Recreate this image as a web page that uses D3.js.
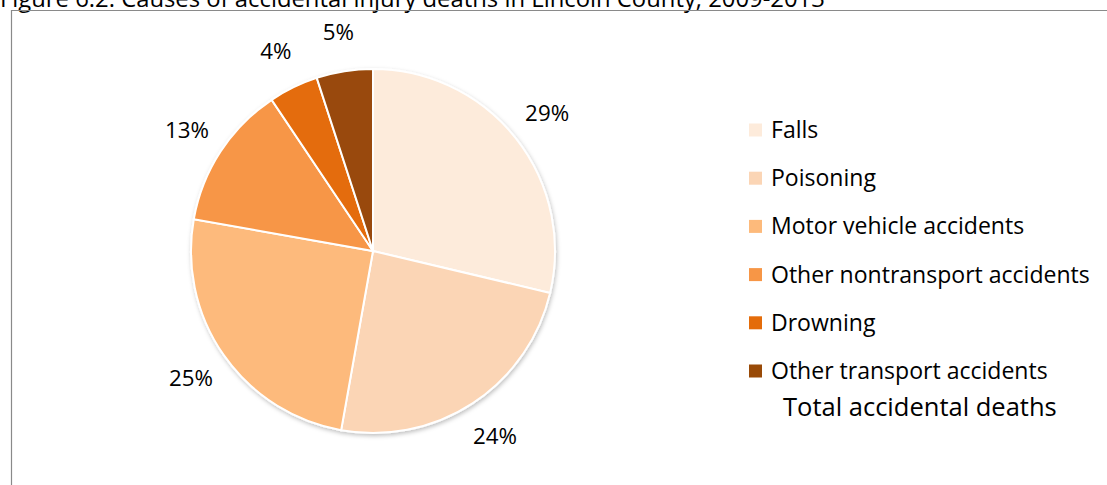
<!DOCTYPE html>
<html>
<head>
<meta charset="utf-8">
<script src="https://cdn.jsdelivr.net/npm/d3@7"></script>
<style>
  body { margin: 0; background: #fff; }
  text { font-family: "Open Sans", Lato, sans-serif; fill: #000; }
</style>
</head>
<body>
<svg id="chart" width="1107" height="485"></svg>
<script>
// data (share of accidental deaths, %)
var causes = ["Falls", "Poisoning", "Motor vehicle accidents", "Other nontransport accidents", "Drowning", "Other transport accidents"];
var shares = [28.7, 24.1, 25.0, 12.8, 4.4, 5.0];
var colors = ["#fdebdb", "#fbd5b5", "#fdba7b", "#f79646", "#e46c0a", "#994a07"];
var titleText = "Figure 6.2: Causes of accidental injury deaths in Lincoln County, 2009-2013";
var legendTitle = "Total accidental deaths";

var svg = d3.select("#chart");

// shrink/grow a text group so its widest member is `target` px wide
function fitWidth(sel, base, target) {
  sel.attr("font-size", base);
  var w = d3.max(sel.nodes(), function(n) { return n.getComputedTextLength(); });
  sel.attr("font-size", base * target / w);
}

// title, cut by the top of the page like the original
var title = svg.append("text")
    .attr("x", 0)
    .attr("y", 7)
    .text(titleText);
fitWidth(title, 20, 825);

// frame (top + left edges only visible)
svg.append("path")
    .attr("d", "M11.5,485 L11.5,10.5 L1107,10.5")
    .attr("fill", "none")
    .attr("stroke", "#8a8a8a")
    .attr("stroke-width", 1.2);

var defs = svg.append("defs");
var shadow = defs.append("filter").attr("id", "shadow")
    .attr("x", "-10%").attr("y", "-10%").attr("width", "120%").attr("height", "120%");
shadow.append("feDropShadow")
    .attr("dx", 1).attr("dy", 2).attr("stdDeviation", 2)
    .attr("flood-color", "#000").attr("flood-opacity", 0.25);

var cx = 373, cy = 251, radius = 182;

var data = causes.map(function(c, i) { return {name: c, value: shares[i], color: colors[i]}; });
var total = d3.sum(shares);

var pie = d3.pie().sort(null).value(function(d) { return d.value; });
var arc = d3.arc().innerRadius(0).outerRadius(radius);
var labelArc = d3.arc().innerRadius(222).outerRadius(222);

var g = svg.append("g").attr("transform", "translate(" + cx + "," + cy + ")");

g.append("g").attr("filter", "url(#shadow)")
  .selectAll("path")
  .data(pie(data))
  .enter().append("path")
    .attr("d", arc)
    .attr("fill", function(d) { return d.data.color; })
    .attr("stroke", "#fff")
    .attr("stroke-width", 2);

var pct = g.selectAll("text.pct")
  .data(pie(data))
  .enter().append("text")
    .attr("class", "pct")
    .attr("transform", function(d) { return "translate(" + labelArc.centroid(d) + ")"; })
    .attr("text-anchor", "middle")
    .attr("dy", "0.35em")
    .text(function(d) { return Math.round(d.data.value / total * 100) + "%"; });
fitWidth(pct, 20, 44);

// legend
var legend = svg.append("g").attr("transform", "translate(749,130)");
var rowY = d3.scalePoint().domain(causes).range([0, 241]);

var rows = legend.selectAll("g")
  .data(data)
  .enter().append("g")
    .attr("transform", function(d) { return "translate(0," + rowY(d.name) + ")"; });

rows.append("rect")
    .attr("x", 0).attr("y", -6.5)
    .attr("width", 13).attr("height", 13)
    .attr("fill", function(d) { return d.color; });

var names = rows.append("text")
    .attr("x", 22)
    .attr("dy", "0.35em")
    .text(function(d) { return d.name; });
fitWidth(names, 20, 319);

var tot = legend.append("text")
    .attr("x", 34)
    .attr("y", 286)
    .text(legendTitle);
fitWidth(tot, 24, 274);
</script>
</body>
</html>
